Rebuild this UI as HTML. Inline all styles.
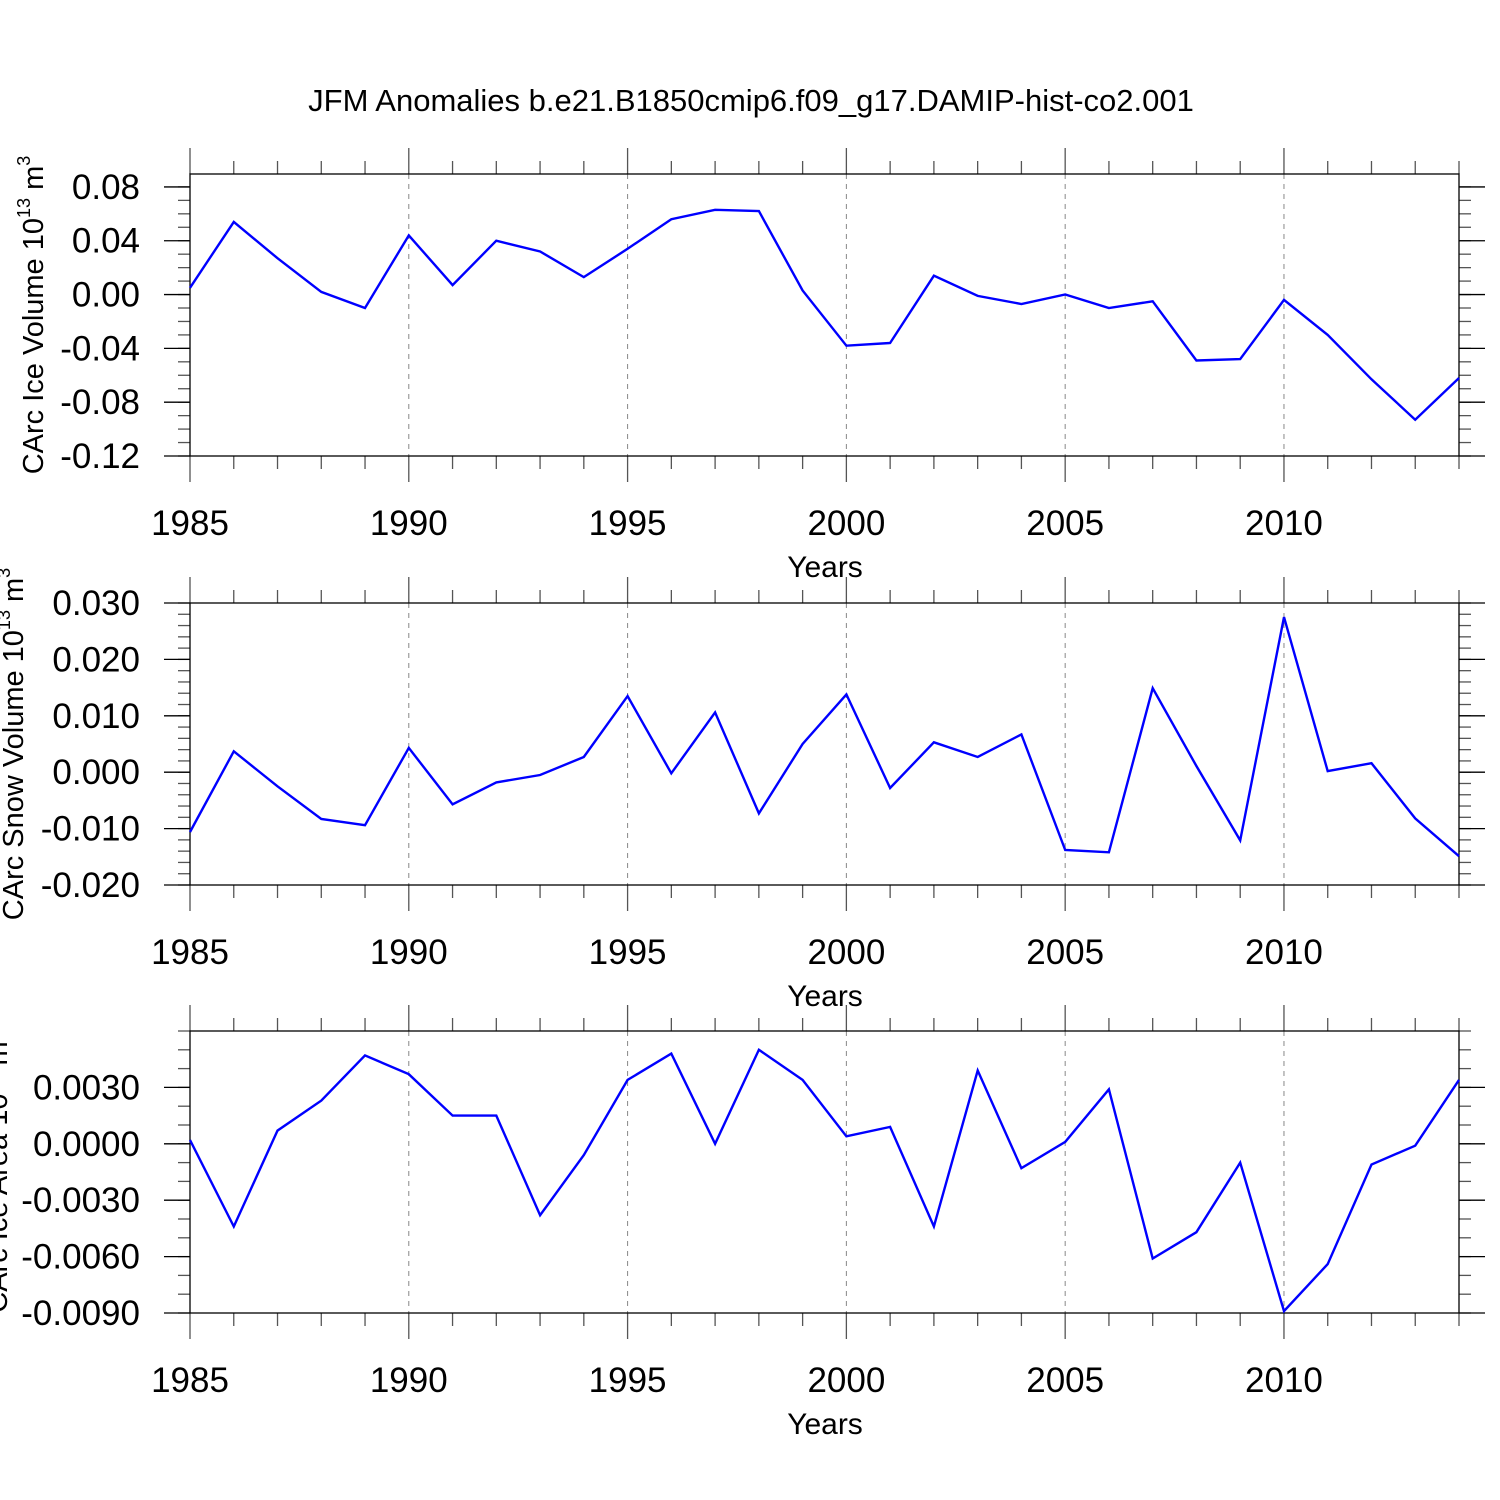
<!DOCTYPE html>
<html><head><meta charset="utf-8"><style>
html,body{margin:0;padding:0;background:#fff;}
svg{display:block;font-family:"Liberation Sans",sans-serif;}
</style></head><body>
<svg id="chart" width="1500" height="1500" viewBox="0 0 1500 1500" xmlns="http://www.w3.org/2000/svg">
<text x="751" y="111" font-size="31" text-anchor="middle">JFM Anomalies b.e21.B1850cmip6.f09_g17.DAMIP-hist-co2.001</text>
</svg>
<script>
const years = [1985,1986,1987,1988,1989,1990,1991,1992,1993,1994,1995,1996,1997,1998,1999,2000,2001,2002,2003,2004,2005,2006,2007,2008,2009,2010,2011,2012,2013,2014];
const iceVolume = [0.005,0.054,0.027,0.002,-0.010,0.044,0.007,0.040,0.032,0.013,0.034,0.056,0.063,0.062,0.003,-0.038,-0.036,0.014,-0.001,-0.007,0.000,-0.010,-0.005,-0.049,-0.048,-0.004,-0.030,-0.063,-0.093,-0.062];
const snowVolume = [-0.0106,0.0037,-0.0025,-0.0083,-0.0094,0.0043,-0.0057,-0.0018,-0.0005,0.0027,0.0135,-0.0002,0.0106,-0.0073,0.0050,0.0138,-0.0028,0.0053,0.0027,0.0067,-0.0138,-0.0142,0.0149,0.0011,-0.0121,0.0275,0.0002,0.0016,-0.0082,-0.0149];
const iceArea = [0.0002,-0.0044,0.0007,0.0023,0.0047,0.0037,0.0015,0.0015,-0.0038,-0.0006,0.0034,0.0048,0.0000,0.0050,0.0034,0.0004,0.0009,-0.0044,0.0039,-0.0013,0.0001,0.0029,-0.0061,-0.0047,-0.0010,-0.0089,-0.0064,-0.0011,-0.0001,0.0034];
const xTickLabels = ["1985","1990","1995","2000","2005","2010"];
const iceTicks = ["0.08","0.04","0.00","-0.04","-0.08","-0.12"];
const snowTicks = ["0.030","0.020","0.010","0.000","-0.010","-0.020"];
const areaTicks = ["0.0030","0.0000","-0.0030","-0.0060","-0.0090"];

const NS="http://www.w3.org/2000/svg";
const svg=document.getElementById('chart');
function mk(tag,attrs,parent){const e=document.createElementNS(NS,tag);for(const k in attrs)e.setAttribute(k,attrs[k]);(parent||svg).appendChild(e);return e;}
const X0=190,X1=1459,XMIN=1985,XMAX=2014;
const xs=v=>X0+(v-XMIN)/(XMAX-XMIN)*(X1-X0);

function panel(name,top,bot,ymin,ymax,minorStep,ticks,data,title,titleX){
  const g=mk('g',{});
  
  
  const ys=v=>bot-(v-ymin)/(ymax-ymin)*(bot-top);
  xTickLabels.slice(1).forEach(l=>{
    const gl=mk('line',{x1:xs(+l),x2:xs(+l),y1:top,y2:bot,stroke:'#888','stroke-width':1,'stroke-dasharray':'5,5'},g);
    
    
  });
  for(let y=XMIN;y<=XMAX;y++){
    const major=(y%5===0);const len=major?26:13;const x=xs(y);
    mk('line',{x1:x,x2:x,y1:top,y2:top-len,stroke:'#555','stroke-width':1.3},g);
    mk('line',{x1:x,x2:x,y1:bot,y2:bot+len,stroke:'#555','stroke-width':1.3},g);
  }
  const n0=Math.ceil(ymin/minorStep-1e-6),n1=Math.floor(ymax/minorStep+1e-6);
  for(let i=n0;i<=n1;i++){
    const y=ys(i*minorStep);
    mk('line',{x1:X0,x2:X0-12,y1:y,y2:y,stroke:'#555','stroke-width':1.3},g);
    mk('line',{x1:X1,x2:X1+12,y1:y,y2:y,stroke:'#555','stroke-width':1.3},g);
  }
  ticks.forEach(t=>{
    const y=ys(+t);
    mk('line',{x1:X0,x2:X0-26,y1:y,y2:y,stroke:'#000','stroke-width':1.3},g);
    mk('line',{x1:X1,x2:X1+26,y1:y,y2:y,stroke:'#000','stroke-width':1.3},g);
    const tl=mk('text',{x:140,y:y+12,'font-size':35,'text-anchor':'end'},g);
    tl.textContent=t;
    
    
  });
  xTickLabels.forEach(l=>{
    const tl=mk('text',{x:xs(+l),y:bot+79,'font-size':35,'text-anchor':'middle'},g);
    tl.textContent=l;
    
    
  });
  const box=mk('rect',{x:X0,y:top,width:X1-X0,height:bot-top,fill:'none',stroke:'#000','stroke-width':1.3},g);
  
  
  const pts=data.map((v,i)=>xs(years[i]).toFixed(1)+','+ys(v).toFixed(1)).join(' ');
  const line=mk('polyline',{points:pts,fill:'none',stroke:'#0000ff','stroke-width':2.4,'stroke-linejoin':'miter'},g);
  
  
  const xt=mk('text',{x:825,y:bot+121,'font-size':30,'text-anchor':'middle'},g);
  xt.textContent='Years';
  
  
  const cy=(top+bot)/2;
  const yt=mk('text',{x:0,y:0,'font-size':29,'text-anchor':'middle',transform:`translate(${titleX},${cy}) rotate(-90)`},g);
  
  
  yt.innerHTML=title;
}
panel('ice-volume',174,456,-0.12,0.0896,0.01,iceTicks,iceVolume,'CArc Ice Volume 10<tspan dy="-13" font-size="18">13</tspan><tspan dy="13"> m</tspan><tspan dy="-13" font-size="18">3</tspan>',43);
panel('snow-volume',603,885,-0.02,0.03,0.002,snowTicks,snowVolume,'CArc Snow Volume 10<tspan dy="-13" font-size="18">13</tspan><tspan dy="13"> m</tspan><tspan dy="-13" font-size="18">3</tspan>',23);
panel('ice-area',1031,1313,-0.009,0.006,0.001,areaTicks,iceArea,'CArc Ice Area 10<tspan dy="-13" font-size="18">13</tspan><tspan dy="13"> m</tspan><tspan dy="-13" font-size="18">2</tspan>',7);
</script>
</body></html>
